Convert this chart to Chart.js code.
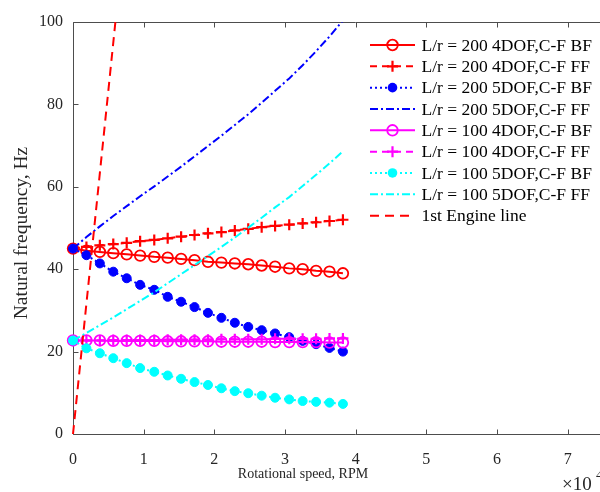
<!DOCTYPE html>
<html>
<head>
<meta charset="utf-8">
<script src="https://cdn.jsdelivr.net/npm/chart.js@4.4.1/dist/chart.umd.min.js"></script>
<style>
  html, body { margin: 0; padding: 0; background: #fff; overflow: hidden; width: 600px; height: 492px; }
  #wrap { position: relative; width: 646px; height: 492px; }
</style>
</head>
<body>
<div id="wrap"><canvas id="c" width="646" height="492"></canvas></div>
<script>
// Rotational speed (x 10^4 RPM)
const speed = [0, 0.19, 0.38, 0.57, 0.76, 0.95, 1.15, 1.34, 1.53, 1.72, 1.91,
               2.10, 2.29, 2.48, 2.67, 2.86, 3.06, 3.25, 3.44, 3.63, 3.82];

// Natural frequencies (Hz)
const lr200_4dof_bf = [45.0, 44.5, 44.2, 43.9, 43.6, 43.3, 43.0, 42.8, 42.5, 42.2, 41.8,
                       41.6, 41.4, 41.2, 40.9, 40.6, 40.2, 40.0, 39.6, 39.4, 39.0];
const lr200_4dof_ff = [45.0, 45.4, 45.8, 46.1, 46.4, 46.8, 47.1, 47.5, 47.9, 48.3, 48.7,
                       49.0, 49.4, 49.8, 50.2, 50.5, 50.8, 51.1, 51.4, 51.7, 52.0];
const lr200_5dof_bf = [45.0, 43.4, 41.4, 39.4, 37.8, 36.2, 35.0, 33.3, 32.1, 30.8, 29.4,
                       28.2, 27.0, 26.0, 25.2, 24.4, 23.5, 22.6, 21.8, 20.9, 20.0];
const lr200_5dof_ff = [45.0, 47.8, 50.4, 52.9, 55.3, 57.7, 60.1, 62.5, 64.9, 67.4, 69.9,
                       72.4, 75.0, 77.6, 80.4, 83.3, 86.3, 89.5, 92.9, 96.5, 100.4];
const lr100_4dof_bf = [22.7, 22.7, 22.7, 22.6, 22.6, 22.6, 22.6, 22.5, 22.5, 22.5, 22.5,
                       22.4, 22.4, 22.4, 22.4, 22.3, 22.3, 22.3, 22.3, 22.2, 22.2];
const lr100_4dof_ff = [22.7, 22.7, 22.7, 22.8, 22.8, 22.8, 22.8, 22.9, 22.9, 22.9, 22.9,
                       23.0, 23.0, 23.0, 23.0, 23.1, 23.1, 23.1, 23.1, 23.2, 23.2];
const lr100_5dof_bf = [22.7, 20.8, 19.6, 18.4, 17.2, 16.0, 15.1, 14.2, 13.4, 12.6, 11.9,
                       11.1, 10.4, 9.9, 9.3, 8.8, 8.4, 8.0, 7.8, 7.6, 7.3];
const lr100_5dof_ff = [22.7, 24.5, 26.4, 28.3, 30.3, 32.3, 34.4, 36.6, 38.8, 41.0, 43.2,
                       45.4, 47.7, 50.1, 52.5, 55.0, 57.5, 60.2, 62.9, 65.7, 68.6];

// 1st engine order line
const engineSpeed = [0, 0.6];
const engineFreq  = [0, 100];

// Axis ticks
const xTicks = [0, 1, 2, 3, 4, 5, 6, 7, 8];
const yTicks = [0, 20, 40, 60, 80, 100];

const labels = [
  'L/r = 200 4DOF,C-F BF',
  'L/r = 200 4DOF,C-F FF',
  'L/r = 200 5DOF,C-F BF',
  'L/r = 200 5DOF,C-F FF',
  'L/r = 100 4DOF,C-F BF',
  'L/r = 100 4DOF,C-F FF',
  'L/r = 100 5DOF,C-F BF',
  'L/r = 100 5DOF,C-F FF',
  '1st Engine line'
];

const SERIF = "'Liberation Serif', 'Times New Roman', serif";
const AXIS = '#4d4d4d';
const TEXT = '#262626';
const DASH = [7, 5];
const DOT = [2, 3];
const DASHDOT = [8, 3, 2, 3];

function pts(xs, ys) { return xs.map((v, i) => ({ x: v, y: ys[i] })); }

function series(i, ys, color, dash, marker, xs) {
  const ds = {
    label: labels[i],
    data: pts(xs || speed, ys),
    showLine: true,
    borderColor: color,
    borderWidth: 2,
    borderDash: dash,
    pointBorderColor: color,
    pointBackgroundColor: 'rgba(0,0,0,0)',
    pointRadius: 0,
    pointBorderWidth: 1.6,
    pointStyle: 'circle',
    order: 20 - i,
    clip: { left: 10, top: 0, right: 10, bottom: 10 },
    marker: marker
  };
  if (marker === 'o') { ds.pointRadius = 5.3; ds.pointBorderWidth = 1.8; }
  if (marker === '+') { ds.pointStyle = 'cross'; ds.pointRadius = 5.5; ds.pointBorderWidth = 2.2; }
  if (marker === '.') { ds.pointRadius = 4.5; ds.pointBackgroundColor = color; ds.pointBorderWidth = 1; }
  return ds;
}

const RED = '#ff0000', BLUE = '#0000ff', MAG = '#ff00ff', CYAN = '#00ffff';

const datasets = [
  series(0, lr200_4dof_bf, RED, [], 'o'),
  series(1, lr200_4dof_ff, RED, DASH, '+'),
  series(2, lr200_5dof_bf, BLUE, DOT, '.'),
  series(3, lr200_5dof_ff, BLUE, DASHDOT, ''),
  series(4, lr100_4dof_bf, MAG, [], 'o'),
  series(5, lr100_4dof_ff, MAG, DASH, '+'),
  series(6, lr100_5dof_bf, CYAN, DOT, '.'),
  series(7, lr100_5dof_ff, CYAN, DASHDOT, ''),
  series(8, engineFreq, RED, [9, 6], '', engineSpeed)
];

function drawMarker(ctx, kind, color, x, y) {
  ctx.save();
  ctx.setLineDash([]);
  ctx.strokeStyle = color;
  ctx.fillStyle = color;
  if (kind === 'o') {
    ctx.lineWidth = 1.8;
    ctx.beginPath(); ctx.arc(x, y, 5.3, 0, Math.PI * 2); ctx.stroke();
  } else if (kind === '+') {
    ctx.lineWidth = 2.2;
    ctx.beginPath();
    ctx.moveTo(x - 5.5, y); ctx.lineTo(x + 5.5, y);
    ctx.moveTo(x, y - 5.5); ctx.lineTo(x, y + 5.5);
    ctx.stroke();
  } else if (kind === '.') {
    ctx.beginPath(); ctx.arc(x, y, 4.8, 0, Math.PI * 2); ctx.fill();
  }
  ctx.restore();
}

const frame = {
  id: 'frame',
  beforeDatasetsDraw(chart) {
    const { ctx, chartArea: a, scales: { x, y } } = chart;
    ctx.save();
    ctx.strokeStyle = AXIS;
    ctx.lineWidth = 1;
    ctx.beginPath();
    const L = Math.round(a.left) + 0.5, R = Math.round(a.right) - 0.5;
    const T = Math.round(a.top) + 0.5, B = Math.round(a.bottom) + 0.5;
    ctx.moveTo(L, T); ctx.lineTo(R, T); ctx.lineTo(R, B); ctx.lineTo(L, B); ctx.closePath();
    xTicks.forEach(v => {
      const px = Math.round(x.getPixelForValue(v)) + 0.5;
      ctx.moveTo(px, B); ctx.lineTo(px, B - 5);
      ctx.moveTo(px, T); ctx.lineTo(px, T + 5);
    });
    yTicks.forEach(v => {
      const py = Math.round(y.getPixelForValue(v)) + 0.5;
      ctx.moveTo(L, py); ctx.lineTo(L + 5, py);
      ctx.moveTo(R, py); ctx.lineTo(R - 5, py);
    });
    ctx.stroke();
    ctx.restore();
  },
  afterDraw(chart) {
    const { ctx, chartArea: a } = chart;
    ctx.save();
    // axis titles
    ctx.fillStyle = TEXT;
    ctx.textAlign = 'center';
    ctx.textBaseline = 'middle';
    ctx.font = '14px ' + SERIF;
    ctx.fillText('Rotational speed, RPM', a.left + 230, 474);
    ctx.save();
    ctx.font = '19.5px ' + SERIF;
    ctx.translate(22, 233);
    ctx.rotate(-Math.PI / 2);
    ctx.fillText('Natural frequency, Hz', 0, 0);
    ctx.restore();
    // exponent label
    ctx.textAlign = 'left';
    ctx.textBaseline = 'alphabetic';
    ctx.font = '19px ' + SERIF;
    ctx.fillText('\u00d710', 562, 490);
    ctx.font = '13px ' + SERIF;
    ctx.fillText('4', 596, 479);

    // legend
    const lx0 = a.left + 297, lx1 = a.left + 342, tx = a.left + 348.5;
    const y0 = a.top + 23, dy = 21.33;
    chart.data.datasets.forEach((ds, i) => {
      const yy = y0 + i * dy;
      ctx.save();
      ctx.strokeStyle = ds.borderColor;
      ctx.lineWidth = ds.borderWidth;
      ctx.setLineDash(ds.borderDash || []);
      ctx.beginPath(); ctx.moveTo(lx0, yy); ctx.lineTo(lx1, yy); ctx.stroke();
      ctx.restore();
      drawMarker(ctx, ds.marker, ds.borderColor, (lx0 + lx1) / 2, yy);
      ctx.fillStyle = '#000';
      ctx.font = '17.5px ' + SERIF;
      ctx.textAlign = 'left';
      ctx.textBaseline = 'middle';
      ctx.fillText(ds.label, tx, yy + 1);
    });
    ctx.restore();
  }
};

new Chart(document.getElementById('c'), {
  type: 'scatter',
  data: { datasets },
  options: {
    responsive: false,
    animation: false,
    layout: { padding: { left: 0, top: 22, right: 2, bottom: 0 } },
    plugins: { legend: { display: false }, tooltip: { enabled: false } },
    scales: {
      x: {
        type: 'linear', min: 0, max: 8,
        afterFit(s) { s.height = 58; s.paddingLeft = 0; s.paddingRight = 0; },
        afterBuildTicks(s) { s.ticks = xTicks.map(v => ({ value: v })); },
        grid: { display: false, drawTicks: false },
        border: { display: false },
        ticks: { color: TEXT, font: { family: SERIF, size: 16 }, padding: 16, maxRotation: 0, autoSkip: false }
      },
      y: {
        type: 'linear', min: 0, max: 100,
        afterFit(s) { s.width = 73; s.paddingTop = 0; s.paddingBottom = 0; },
        afterBuildTicks(s) { s.ticks = yTicks.map(v => ({ value: v })); },
        grid: { display: false, drawTicks: false },
        border: { display: false },
        ticks: { color: TEXT, font: { family: SERIF, size: 16 }, padding: 10 }
      }
    }
  },
  plugins: [frame]
});
</script>
</body>
</html>
